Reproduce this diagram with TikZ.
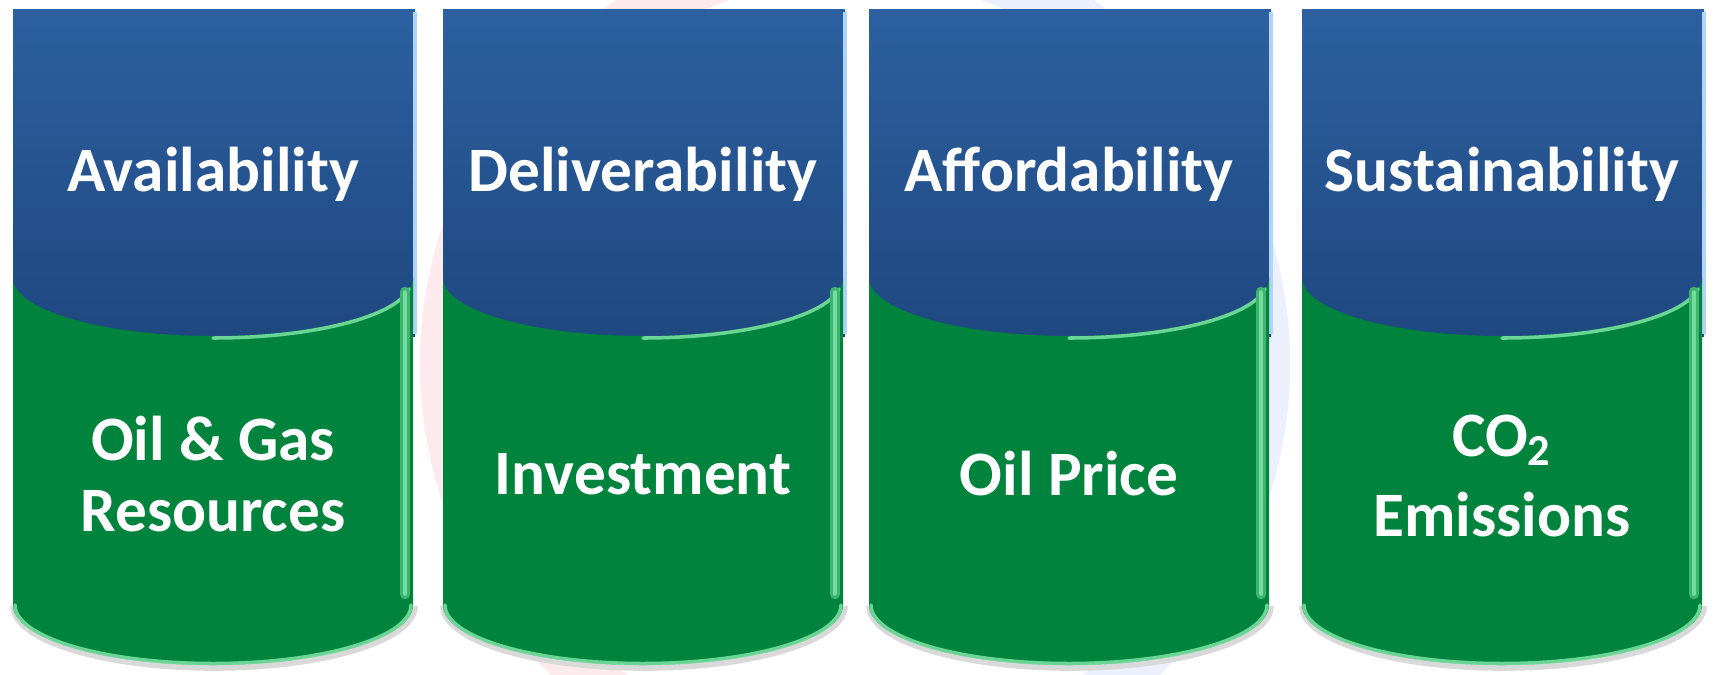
\documentclass[tikz,border=0pt]{standalone}
\usepackage{fontspec}
\setmainfont{Carlito}
\usepackage{xcolor}
\usepackage{tikz}
\usetikzlibrary{positioning, calc}

\definecolor{pillartop}{RGB}{44,96,160}
\definecolor{pillardark}{RGB}{31,72,128}
\definecolor{drumgreen}{RGB}{0,132,61}
\definecolor{rimgreen}{RGB}{125,228,165}
\definecolor{rimblue}{RGB}{175,212,245}
\definecolor{markred}{RGB}{253,234,236}
\definecolor{markblue}{RGB}{236,239,252}

\begin{document}
\begin{tikzpicture}[
    pillar/.style={top color=pillartop, bottom color=pillardark},
    drum/.style={fill=drumgreen},
    shadow/.style={black!15, line width=1.6pt},
    rim/.style={rimgreen, line width=1pt, opacity=0.85, line cap=round},
    sideband/.style={rimgreen!50!drumgreen, line width=3pt, line cap=round},
    edge/.style={rimblue, line width=1pt},
    pillartext/.style={font=\fontsize{18}{20}\selectfont\bfseries, text=white, align=center}
]
    \useasboundingbox (0,0) rectangle (17.14,6.74);

    % Faint logo behind the pillars
    \draw[markred, line width=0.5cm] (8.55,3.1) ++(100:4.1) arc[start angle=100, end angle=290, radius=4.1];
    \draw[markblue, line width=0.5cm] (8.55,3.1) ++(-70:4.1) arc[start angle=-70, end angle=100, radius=4.1];

    % Pillar 1 - Availability
    \shade[pillar] (0.13,3.38) rectangle (4.15,6.65);
    \draw[edge] (4.15,6.62) -- (4.15,3.40);
    \draw[shadow] (4.15,0.68) arc[start angle=0, end angle=-180, x radius=2.01, y radius=0.62];
    \fill[drum] (0.13,3.96) arc[start angle=180, end angle=360, x radius=2, y radius=0.58]
        -- (4.13,0.69) arc[start angle=0, end angle=-180, x radius=2, y radius=0.6] -- cycle;
    \draw[rim] (2.13,3.36) arc[start angle=270, end angle=352, x radius=1.98, y radius=0.57];
    \draw[sideband] (4.05,3.82) -- (4.05,0.80);
    \draw[rim] (4.05,3.82) -- (4.05,0.80);
    \draw[rim] (4.11,0.69) arc[start angle=0, end angle=-180, x radius=1.98, y radius=0.585];
    \node[pillartext] (avail) at (2.13,5.0) {Availability};
    \node[pillartext] (avail-res) at (2.13,2.0) {Oil \& Gas\\Resources};

    % Pillar 2 - Deliverability
    \shade[pillar] (4.43,3.38) rectangle (8.45,6.65);
    \draw[edge] (8.45,6.62) -- (8.45,3.40);
    \draw[shadow] (8.45,0.68) arc[start angle=0, end angle=-180, x radius=2.01, y radius=0.62];
    \fill[drum] (4.43,3.96) arc[start angle=180, end angle=360, x radius=2, y radius=0.58]
        -- (8.43,0.69) arc[start angle=0, end angle=-180, x radius=2, y radius=0.6] -- cycle;
    \draw[rim] (6.43,3.36) arc[start angle=270, end angle=352, x radius=1.98, y radius=0.57];
    \draw[sideband] (8.35,3.82) -- (8.35,0.80);
    \draw[rim] (8.35,3.82) -- (8.35,0.80);
    \draw[rim] (8.41,0.69) arc[start angle=0, end angle=-180, x radius=1.98, y radius=0.585];
    \node[pillartext] (deliv) at (6.43,5.0) {Deliverability};
    \node[pillartext] (deliv-inv) at (6.43,2.0) {Investment};

    % Pillar 3 - Affordability
    \shade[pillar] (8.69,3.38) rectangle (12.71,6.65);
    \draw[edge] (12.71,6.62) -- (12.71,3.40);
    \draw[shadow] (12.71,0.68) arc[start angle=0, end angle=-180, x radius=2.01, y radius=0.62];
    \fill[drum] (8.69,3.96) arc[start angle=180, end angle=360, x radius=2, y radius=0.58]
        -- (12.69,0.69) arc[start angle=0, end angle=-180, x radius=2, y radius=0.6] -- cycle;
    \draw[rim] (10.69,3.36) arc[start angle=270, end angle=352, x radius=1.98, y radius=0.57];
    \draw[sideband] (12.61,3.82) -- (12.61,0.80);
    \draw[rim] (12.61,3.82) -- (12.61,0.80);
    \draw[rim] (12.67,0.69) arc[start angle=0, end angle=-180, x radius=1.98, y radius=0.585];
    \node[pillartext] (afford) at (10.69,5.0) {Affordability};
    \node[pillartext] (afford-price) at (10.69,2.0) {Oil Price};

    % Pillar 4 - Sustainability
    \shade[pillar] (13.02,3.38) rectangle (17.04,6.65);
    \draw[edge] (17.04,6.62) -- (17.04,3.40);
    \draw[shadow] (17.04,0.68) arc[start angle=0, end angle=-180, x radius=2.01, y radius=0.62];
    \fill[drum] (13.02,3.96) arc[start angle=180, end angle=360, x radius=2, y radius=0.58]
        -- (17.02,0.69) arc[start angle=0, end angle=-180, x radius=2, y radius=0.6] -- cycle;
    \draw[rim] (15.02,3.36) arc[start angle=270, end angle=352, x radius=1.98, y radius=0.57];
    \draw[sideband] (16.94,3.82) -- (16.94,0.80);
    \draw[rim] (16.94,3.82) -- (16.94,0.80);
    \draw[rim] (17.00,0.69) arc[start angle=0, end angle=-180, x radius=1.98, y radius=0.585];
    \node[pillartext] (sustain) at (15.02,5.0) {Sustainability};
    \node[pillartext] (sustain-co2) at (15.02,1.98) {CO\textsubscript{2}\\[3pt]Emissions};
\end{tikzpicture}
\end{document}
